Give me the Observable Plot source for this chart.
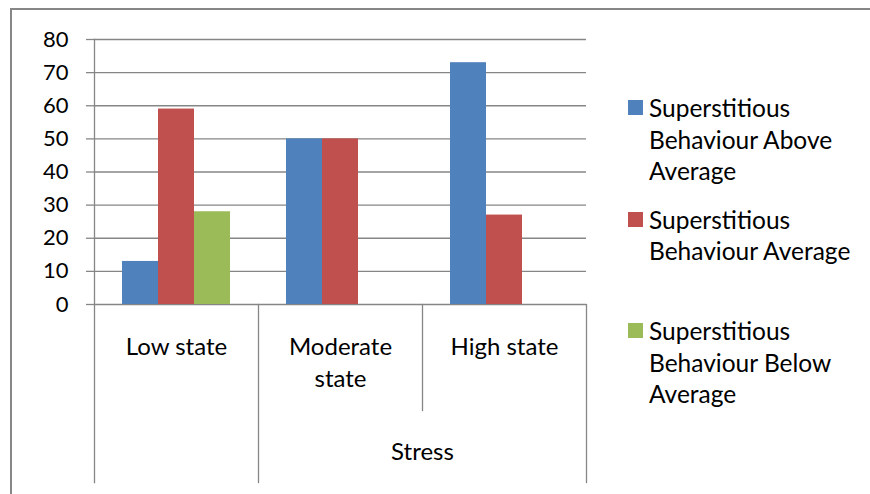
<!DOCTYPE html>
<html><head><meta charset="utf-8">
<script src="https://cdn.jsdelivr.net/npm/d3@7"></script>
<script src="https://cdn.jsdelivr.net/npm/@observablehq/plot@0.6"></script>
<style>
html,body{margin:0;padding:0;background:#fff;overflow:hidden}
#wrap{position:relative;width:870px;height:494px;overflow:hidden;font-family:Lato,sans-serif;background:#fff}
#border{position:absolute;left:10px;top:8px;width:900px;height:600px;border-left:2px solid #878787;border-top:2px solid #878787}
#chart{position:absolute;left:0;top:0}
.entry{position:absolute;left:628px;width:240px;font-size:24.5px;line-height:31.5px;color:#000}
.sw{position:absolute;left:0;top:8px;width:15px;height:15px}
.lab{position:absolute;left:21px;width:218px}
</style></head>
<body><div id="wrap"><div id="border"></div><div id="chart"></div><div id="legend"></div></div>
<script>
const categories = ["Low state", "Moderate state", "High state"];
const categoryLabels = ["Low state", "Moderate\nstate", "High state"];
const groupLabel = "Stress";
const series = [
  "Superstitious Behaviour Above Average",
  "Superstitious Behaviour Average",
  "Superstitious Behaviour Below Average"
];
const aboveAverage = [13, 50, 73];
const average = [59, 50, 27];
const belowAverage = [28, 0, 0];
const colors = ["#4f81bd", "#c0504d", "#9bbb59"];
const yTicks = [0, 10, 20, 30, 40, 50, 60, 70, 80];

const seriesValues = [aboveAverage, average, belowAverage];
const rows = [];
categories.forEach((c, i) => {
  series.forEach((s, j) => {
    const v = seriesValues[j][i];
    if (v > 0) rows.push({category: c, series: s, value: v});
  });
});

const W = 870, H = 494;
const mL = 93, mR = 284, mT = 39, mB = 190;
const innerH = H - mT - mB;
const longDrop = 178, shortDrop = 106;
const gray = "#868686";
const lineW = 1.3;

const chart = Plot.plot({
  width: W, height: H,
  marginLeft: mL, marginRight: mR, marginTop: mT, marginBottom: mB,
  style: {fontFamily: "Lato, sans-serif", fontSize: "24px", color: "#000", background: "transparent", overflow: "visible"},
  fx: {domain: categories, padding: 0, axis: null},
  x: {domain: series, paddingInner: 0, paddingOuter: 0.725, axis: null},
  y: {domain: [0, 80], axis: null},
  color: {domain: series, range: colors},
  marks: [
    Plot.gridY(yTicks, {stroke: gray, strokeOpacity: 1, strokeWidth: lineW}),
    Plot.axisY(yTicks, {label: null, tickSize: 8, tickPadding: 18, stroke: gray, strokeOpacity: 1, strokeWidth: lineW, fontSize: 22, tickFormat: d => String(d)}),
    Plot.barY(rows, {fx: "category", x: "series", y: "value", fill: "series"}),
    Plot.frame({anchor: "left", fx: [categories[0]], stroke: gray, strokeWidth: lineW, insetBottom: -longDrop}),
    Plot.frame({anchor: "left", fx: [categories[1]], stroke: gray, strokeWidth: lineW, insetTop: innerH, insetBottom: -longDrop}),
    Plot.frame({anchor: "left", fx: [categories[2]], stroke: gray, strokeWidth: lineW, insetTop: innerH, insetBottom: -shortDrop}),
    Plot.frame({anchor: "right", fx: [categories[2]], stroke: gray, strokeWidth: lineW, insetTop: innerH, insetBottom: -longDrop}),
    Plot.text(categories, {fx: d => d, text: (d, i) => categoryLabels[i], frameAnchor: "bottom", dy: 28, lineAnchor: "top", lineHeight: 1.33, fontSize: 24}),
    Plot.text([groupLabel], {fx: [categories[1]], frameAnchor: "bottom-right", textAnchor: "middle", dy: 155, fontSize: 24})
  ]
});
document.getElementById("chart").appendChild(chart);

const legend = document.getElementById("legend");
const legendTop = 92, legendStep = 111.5;
series.forEach((s, i) => {
  const e = document.createElement("div");
  e.className = "entry";
  e.style.top = (legendTop + i * legendStep) + "px";
  const sw = document.createElement("div");
  sw.className = "sw";
  sw.style.background = colors[i];
  const lab = document.createElement("div");
  lab.className = "lab";
  lab.textContent = s;
  e.appendChild(sw);
  e.appendChild(lab);
  legend.appendChild(e);
});
</script>
</body></html>
